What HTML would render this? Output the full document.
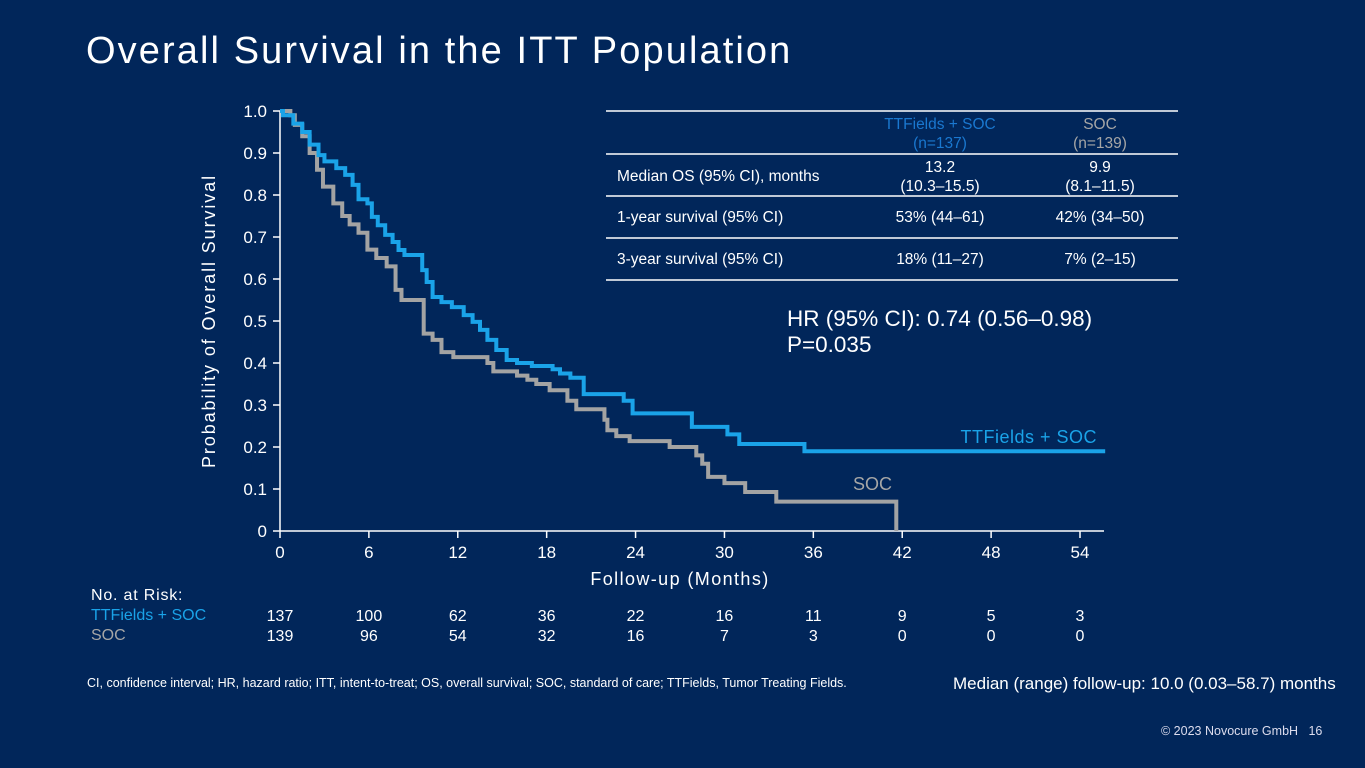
<!DOCTYPE html>
<html><head><meta charset="utf-8"><style>
body{margin:0;width:1365px;height:768px;background:#01265a;font-family:"Liberation Sans",sans-serif;overflow:hidden;position:relative;color:#fff}
.a{position:absolute;white-space:nowrap}
</style></head><body>
<div class="a" style="left:86px;top:30px;font-size:38px;letter-spacing:2.1px">Overall Survival in the ITT Population</div>
<svg class="a" style="left:0;top:0" width="1365" height="768" id="chart">
<g id="axes"></g><g id="curves"></g>
<text x="215" y="321" transform="rotate(-90 215 321)" fill="#fff" font-size="18" text-anchor="middle" letter-spacing="1.9">Probability of Overall Survival</text>
<text x="680" y="585" fill="#fff" font-size="18" text-anchor="middle" letter-spacing="1.4">Follow-up (Months)</text>
<text x="1097" y="443" fill="#1aa3e8" font-size="18" text-anchor="end" letter-spacing="0.5">TTFields + SOC</text>
<text x="892" y="490" fill="#a6a6a6" font-size="18" text-anchor="end">SOC</text>
<g font-size="15.5" fill="#fff">
<line x1="606" x2="1178" y1="111" y2="111" stroke="#fff" stroke-width="1.5"/>
<line x1="606" x2="1178" y1="154" y2="154" stroke="#fff" stroke-width="1.5"/>
<line x1="606" x2="1178" y1="196" y2="196" stroke="#fff" stroke-width="1.5"/>
<line x1="606" x2="1178" y1="238" y2="238" stroke="#fff" stroke-width="1.5"/>
<line x1="606" x2="1178" y1="280" y2="280" stroke="#fff" stroke-width="1.5"/>
<text x="940" y="129" fill="#1a78d0" text-anchor="middle">TTFields + SOC</text>
<text x="940" y="148" fill="#1a78d0" text-anchor="middle">(n=137)</text>
<text x="1100" y="129" fill="#a6a6a6" text-anchor="middle">SOC</text>
<text x="1100" y="148" fill="#a6a6a6" text-anchor="middle">(n=139)</text>
<text x="617" y="181">Median OS (95% CI), months</text>
<text x="940" y="172" text-anchor="middle">13.2</text><text x="940" y="191" text-anchor="middle">(10.3–15.5)</text>
<text x="1100" y="172" text-anchor="middle">9.9</text><text x="1100" y="191" text-anchor="middle">(8.1–11.5)</text>
<text x="617" y="222">1-year survival (95% CI)</text>
<text x="940" y="222" text-anchor="middle">53% (44–61)</text><text x="1100" y="222" text-anchor="middle">42% (34–50)</text>
<text x="617" y="264">3-year survival (95% CI)</text>
<text x="940" y="264" text-anchor="middle">18% (11–27)</text><text x="1100" y="264" text-anchor="middle">7% (2–15)</text>
</g>
<text x="787" y="326" fill="#fff" font-size="22.5">HR (95% CI): 0.74 (0.56–0.98)</text>
<text x="787" y="352" fill="#fff" font-size="22.5">P=0.035</text>
<g id="risk" font-size="16"></g>
</svg>
<div class="a" style="left:91px;top:587px;font-size:16px;letter-spacing:0.8px">No. at Risk:</div>
<div class="a" style="left:91px;top:607px;font-size:16px;color:#1aa3e8">TTFields + SOC</div>
<div class="a" style="left:91px;top:627px;font-size:16px;color:#a6a6a6">SOC</div>
<div class="a" style="left:87px;top:676px;font-size:12.5px">CI, confidence interval; HR, hazard ratio; ITT, intent-to-treat; OS, overall survival; SOC, standard of care; TTFields, Tumor Treating Fields.</div>
<div class="a" style="left:953px;top:674px;font-size:17px">Median (range) follow-up: 10.0 (0.03–58.7) months</div>
<div class="a" style="left:1161px;top:724px;font-size:12.5px;color:#dde">© 2023 Novocure GmbH &nbsp;&nbsp;16</div>
<script>
const xTicks=[0,6,12,18,24,30,36,42,48,54];
const yTicks=[0,0.1,0.2,0.3,0.4,0.5,0.6,0.7,0.8,0.9,1.0];
const riskTT=[137,100,62,36,22,16,11,9,5,3];
const riskSOC=[139,96,54,32,16,7,3,0,0,0];
const ttMonths=[0,0.2,0.9,1.5,2.0,2.6,3.0,3.8,4.4,4.9,5.3,5.9,6.2,6.6,7.1,7.6,8.0,8.4,9.6,9.9,10.3,10.9,11.6,12.4,13.0,13.5,14.0,14.6,15.3,16.0,17.0,18.4,18.9,19.6,20.5,23.2,23.8,27.8,30.2,31.0,35.4];
const ttSurv=[1.0,0.99,0.97,0.95,0.92,0.895,0.88,0.864,0.848,0.824,0.79,0.78,0.748,0.728,0.705,0.688,0.669,0.657,0.621,0.593,0.557,0.545,0.533,0.514,0.498,0.479,0.455,0.431,0.407,0.40,0.393,0.385,0.375,0.365,0.326,0.31,0.28,0.248,0.23,0.207,0.19];
const ttEnd=55.7;
const socMonths=[0,0.7,1.0,1.5,2.0,2.5,2.9,3.6,4.2,4.7,5.3,5.9,6.5,7.2,7.8,8.2,9.7,10.3,10.9,11.7,14.0,14.4,16.0,16.7,17.3,18.2,19.4,20.0,21.9,22.1,22.7,23.6,26.3,28.1,28.5,28.9,30.0,31.4,33.5,41.6];
const socSurv=[1.0,0.99,0.967,0.94,0.9,0.86,0.82,0.78,0.75,0.73,0.71,0.67,0.65,0.63,0.574,0.55,0.47,0.455,0.426,0.414,0.40,0.38,0.37,0.36,0.35,0.335,0.31,0.29,0.265,0.24,0.226,0.214,0.2,0.18,0.16,0.129,0.114,0.093,0.07,0];
const X=m=>280+m*800/54, Y=s=>531-s*420;
const NS="http://www.w3.org/2000/svg";
const ax=document.getElementById('axes');
function mk(t,at,p){const e=document.createElementNS(NS,t);for(const k in at)e.setAttribute(k,at[k]);p.appendChild(e);return e;}
const xl=mk('line',{x1:280,x2:1104,y1:531,y2:531,stroke:'#fff','stroke-width':1.5},ax);


const yl=mk('line',{x1:280,x2:280,y1:111,y2:531,stroke:'#fff','stroke-width':1.5},ax);


xTicks.forEach(t=>{mk('line',{x1:X(t),x2:X(t),y1:531,y2:538,stroke:'#fff','stroke-width':1.5},ax);
const tx=mk('text',{x:X(t),y:558,fill:'#fff','font-size':17,'text-anchor':'middle'},ax);tx.textContent=t;

});
yTicks.forEach(t=>{mk('line',{x1:273,x2:280,y1:Y(t),y2:Y(t),stroke:'#fff','stroke-width':1.5},ax);
const tx=mk('text',{x:267,y:Y(t)+6,fill:'#fff','font-size':17,'text-anchor':'end'},ax);tx.textContent=t===0?'0':t.toFixed(1);

});
function step(ms,ss,end){let d='M'+X(ms[0])+','+Y(ss[0]);for(let i=1;i<ms.length;i++){d+='H'+X(ms[i])+'V'+Y(ss[i]);}if(end!==undefined)d+='H'+X(end);return d;}
const cv=document.getElementById('curves');
const p1=mk('path',{d:step(socMonths,socSurv),fill:'none',stroke:'#a3a3a3','stroke-width':4},cv);


const p2=mk('path',{d:step(ttMonths,ttSurv,ttEnd),fill:'none',stroke:'#1aa3e8','stroke-width':4},cv);


const rk=document.getElementById('risk');
xTicks.forEach((t,i)=>{const a=mk('text',{x:X(t),y:621,fill:'#fff','text-anchor':'middle'},rk);a.textContent=riskTT[i];


const b=mk('text',{x:X(t),y:641,fill:'#fff','text-anchor':'middle'},rk);b.textContent=riskSOC[i];

});
</script>
</body></html>
